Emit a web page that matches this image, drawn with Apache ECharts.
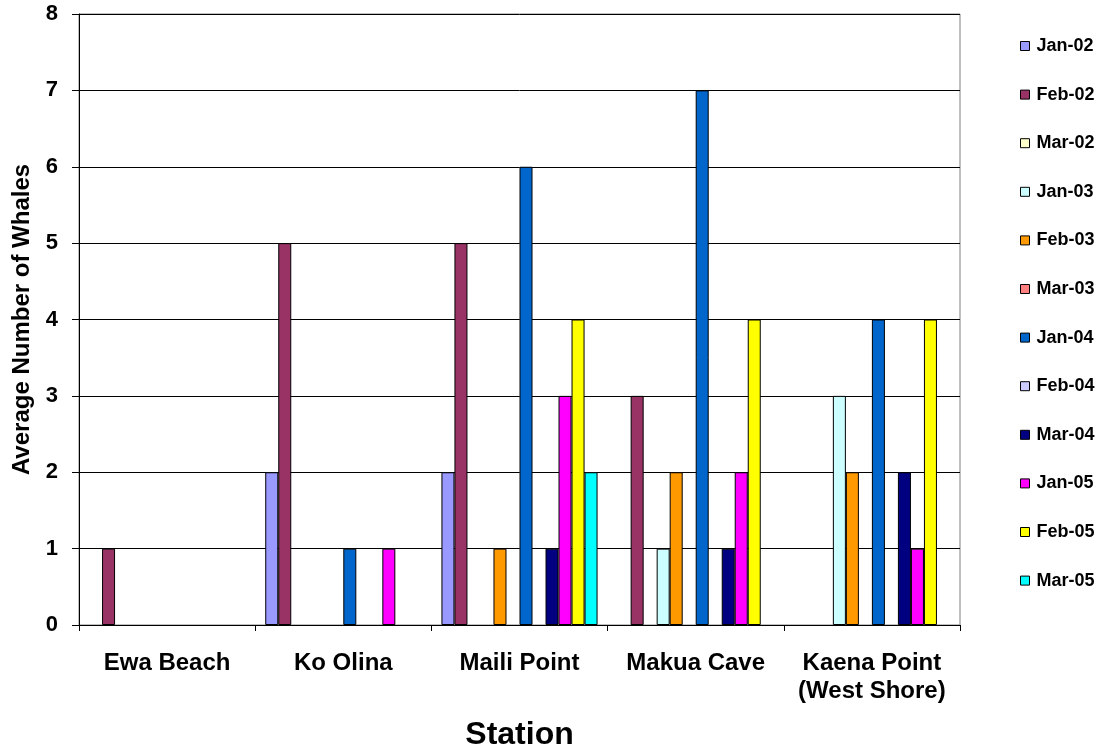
<!DOCTYPE html>
<html>
<head>
<meta charset="utf-8">
<script src="https://cdn.jsdelivr.net/npm/echarts@6/dist/echarts.min.js"></script>
<style>
  html, body { margin: 0; padding: 0; background: #fff; }
  #chart { width: 1104px; height: 752px; }
</style>
</head>
<body>
<div id="chart"></div>
<script>
// stations on the x axis
const stations = ["Ewa Beach", "Ko Olina", "Maili Point", "Makua Cave", "Kaena Point\n(West Shore)"];

// survey months (one bar series each)
const months = ["Jan-02", "Feb-02", "Mar-02", "Jan-03", "Feb-03", "Mar-03",
                "Jan-04", "Feb-04", "Mar-04", "Jan-05", "Feb-05", "Mar-05"];

// average number of whales, per month, per station (null = no bar)
const jan02 = [null, 2, 2, null, null];
const feb02 = [1, 5, 5, 3, null];
const mar02 = [null, null, null, null, null];
const jan03 = [null, null, null, 1, 3];
const feb03 = [null, null, 1, 2, 2];
const mar03 = [null, null, null, null, null];
const jan04 = [null, 1, 6, 7, 4];
const feb04 = [null, null, null, null, null];
const mar04 = [null, null, 1, 1, 2];
const jan05 = [null, 1, 3, 2, 1];
const feb05 = [null, null, 4, 4, 4];
const mar05 = [null, null, 2, null, null];

const yTicks = [0, 1, 2, 3, 4, 5, 6, 7, 8];

const values = [jan02, feb02, mar02, jan03, feb03, mar03, jan04, feb04, mar04, jan05, feb05, mar05];
const colors = ["#9999FF", "#993366", "#FFFFCC", "#CCFFFF", "#FF9900", "#FF8080",
                "#0066CC", "#CCCCFF", "#000080", "#FF00FF", "#FFFF00", "#00FFFF"];

const font = "Liberation Sans, Arial, sans-serif";

const chart = echarts.init(document.getElementById("chart"));

const option = {
  backgroundColor: "#fff",
  textStyle: { fontFamily: font },
  grid: {
    left: 79, right: 144, top: 14, bottom: 127,
    outerBoundsMode: "none",
    show: true, borderColor: "#808080", borderWidth: 1,
  },
  legend: {
    orient: "vertical",
    left: 1015,
    top: 32,
    itemWidth: 9,
    itemHeight: 9,
    itemGap: 30.6,
    icon: "rect",
    itemStyle: { borderColor: "#000", borderWidth: 1 },
    textStyle: {
      fontSize: 18, fontWeight: "bold", color: "#000", lineHeight: 18,
      fontFamily: font, padding: [0, 0, 0, 2],
    },
    data: months,
  },
  xAxis: {
    type: "category",
    data: stations,
    name: "Station",
    nameLocation: "middle",
    nameGap: 94,
    nameTextStyle: { fontSize: 32, fontWeight: "bold", color: "#000", fontFamily: font },
    axisLine: { lineStyle: { color: "#000" } },
    axisTick: { show: true, length: 6, lineStyle: { color: "#000" } },
    axisLabel: {
      fontSize: 24, fontWeight: "bold", color: "#000", margin: 24,
      lineHeight: 28, fontFamily: font, interval: 0,
    },
  },
  yAxis: {
    type: "value",
    min: yTicks[0],
    max: yTicks[yTicks.length - 1],
    interval: 1,
    name: "Average Number of Whales",
    nameLocation: "middle",
    nameGap: 45,
    nameTextStyle: { fontSize: 24, fontWeight: "bold", color: "#000", fontFamily: font },
    axisLine: { show: true, lineStyle: { color: "#000" } },
    axisTick: { show: true, length: 7, lineStyle: { color: "#000" } },
    axisLabel: { fontSize: 22, fontWeight: "bold", color: "#000", margin: 21, fontFamily: font },
    splitLine: { lineStyle: { color: "#000", width: 1 } },
  },
  series: months.map((m, i) => ({
    name: m,
    type: "bar",
    data: values[i],
    barGap: "0%",
    barCategoryGap: "11.4%",
    itemStyle: { color: colors[i], borderColor: "#000", borderWidth: 1 },
  })),
};

chart.setOption(option);
</script>
</body>
</html>
